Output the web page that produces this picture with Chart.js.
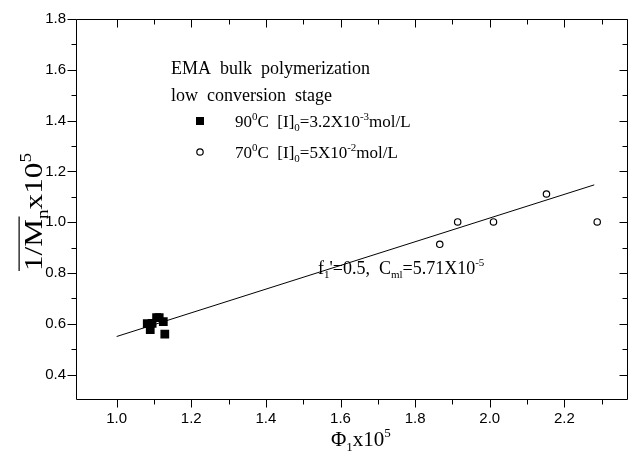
<!DOCTYPE html>
<html>
<head>
<meta charset="utf-8">
<script src="https://cdn.jsdelivr.net/npm/chart.js@4"></script>
<style>
html,body{margin:0;padding:0;background:#fff;}
canvas{display:block;}
</style>
</head>
<body>
<canvas id="c" width="634" height="458"></canvas>
<script>
// ---- data ----
const squaresX = [1.082, 1.090, 1.095, 1.107, 1.114, 1.125, 1.129];
const squaresY = [0.601, 0.577, 0.602, 0.624, 0.624, 0.609, 0.559];
const circlesX = [1.866, 1.914, 2.010, 2.152, 2.288];
const circlesY = [0.913, 1.001, 1.001, 1.111, 1.001];
const fitX = [1.0, 2.28];
const fitY = [0.55, 1.147];
const xTicks = [1.0, 1.2, 1.4, 1.6, 1.8, 2.0, 2.2];
const xMinor = [1.1, 1.3, 1.5, 1.7, 1.9, 2.1, 2.3];
const yTicks = [0.4, 0.6, 0.8, 1.0, 1.2, 1.4, 1.6, 1.8];
const yMinor = [0.5, 0.7, 0.9, 1.1, 1.3, 1.5, 1.7];
const xRange = [0.891, 2.37];
const yRange = [0.3, 1.8];

const SERIF = '"Liberation Serif", "Times New Roman", serif';

function richText(ctx, x, y, segs, base) {
  let cx = x;
  const pos = [];
  for (const [t, k] of segs) {
    let size = base, dy = 0;
    if (k === 'sup') { size = Math.round(base * 0.62); dy = -base * 0.42; }
    if (k === 'sub') { size = Math.round(base * 0.62); dy = base * 0.22; }
    ctx.font = size + 'px ' + SERIF;
    ctx.fillText(t, cx, y + dy);
    const w = ctx.measureText(t).width;
    pos.push([cx, cx + w]);
    cx += w;
  }
  return pos;
}
function richWidth(ctx, segs, base) {
  let w = 0;
  for (const [t, k] of segs) {
    const size = k === 'n' ? base : Math.round(base * 0.62);
    ctx.font = size + 'px ' + SERIF;
    w += ctx.measureText(t).width;
  }
  return w;
}

const deco = {
  id: 'deco',
  afterDraw(chart) {
    const { ctx, chartArea: a, scales: { x, y } } = chart;
    ctx.save();
    ctx.strokeStyle = '#000';
    ctx.fillStyle = '#000';
    ctx.lineWidth = 1;
    const L = Math.round(a.left) + 0.5, R = Math.round(a.right) - 0.5;
    const T = Math.round(a.top) + 0.5, B = Math.round(a.bottom) - 0.5;
    ctx.beginPath();
    ctx.rect(L, T, R - L, B - T);
    ctx.stroke();
    const seg = (x1, y1, x2, y2) => { ctx.moveTo(x1, y1); ctx.lineTo(x2, y2); };
    ctx.beginPath();
    for (const v of xTicks) {
      const p = Math.round(x.getPixelForValue(v)) + 0.5;
      seg(p, B, p, B + 8); seg(p, T, p, T + 8);
    }
    for (const v of xMinor) {
      const p = Math.round(x.getPixelForValue(v)) + 0.5;
      seg(p, B, p, B + 5); seg(p, T, p, T + 5);
    }
    for (const v of yTicks) {
      const p = Math.round(y.getPixelForValue(v)) + 0.5;
      seg(L, p, L - 9, p); seg(R, p, R - 8, p);
    }
    for (const v of yMinor) {
      const p = Math.round(y.getPixelForValue(v)) + 0.5;
      seg(L, p, L - 5, p); seg(R, p, R - 5, p);
    }
    ctx.stroke();

    ctx.textBaseline = 'alphabetic';
    ctx.textAlign = 'left';
    const hs = 18, fs = 17;
    ctx.font = hs + 'px ' + SERIF;
    ctx.fillText('EMA  bulk  polymerization', 171, 74);
    ctx.fillText('low  conversion  stage', 171, 101);
    ctx.fillRect(196, 117, 8, 8);
    ctx.beginPath();
    ctx.arc(200, 152, 3.2, 0, Math.PI * 2);
    ctx.lineWidth = 1.2;
    ctx.stroke();
    richText(ctx, 235, 127, [['90', 'n'], ['0', 'sup'], ['C  [I]', 'n'], ['0', 'sub'], ['=3.2X10', 'n'], ['-3', 'sup'], ['mol/L', 'n']], fs);
    richText(ctx, 235, 158, [['70', 'n'], ['0', 'sup'], ['C  [I]', 'n'], ['0', 'sub'], ['=5X10', 'n'], ['-2', 'sup'], ['mol/L', 'n']], fs);
    richText(ctx, 318, 274, [["f", 'n'], ['1', 'sub'], ["'=0.5,  C", 'n'], ['ml', 'sub'], ['=5.71X10', 'n'], ['-5', 'sup']], 18);

    const xs = [['Φ', 'n'], ['1', 'sub'], ['x10', 'n'], ['5', 'sup']];
    const xb = 21;
    richText(ctx, 331, 446, xs, xb);

    const ys = [['1/M', 'n'], ['n', 'sub'], ['x10', 'n'], ['5', 'sup']];
    const yb = 26, stretch = 1.2;
    const yw = richWidth(ctx, ys, yb);
    ctx.save();
    ctx.translate(42, 212);
    ctx.rotate(-Math.PI / 2);
    ctx.scale(stretch, 1);
    const p = richText(ctx, -yw / 2, 0, ys, yb);
    ctx.lineWidth = 1.2;
    ctx.beginPath();
    ctx.moveTo(p[0][0], -yb * 0.88);
    ctx.lineTo(p[0][1] + 2, -yb * 0.88);
    ctx.stroke();
    ctx.restore();

    ctx.restore();
  }
};

const tickFont = { family: '"Liberation Sans", Arial, sans-serif', size: 15 };

new Chart(document.getElementById('c'), {
  type: 'scatter',
  data: {
    datasets: [
      {
        label: '90C',
        data: squaresX.map((v, i) => ({ x: v, y: squaresY[i] })),
        pointStyle: 'rect',
        pointRadius: 6.2,
        pointHoverRadius: 6.2,
        backgroundColor: '#000',
        borderWidth: 0
      },
      {
        label: '70C',
        data: circlesX.map((v, i) => ({ x: v, y: circlesY[i] })),
        pointStyle: 'circle',
        pointRadius: 3.2,
        pointHoverRadius: 3.2,
        backgroundColor: '#fff',
        borderColor: '#000',
        borderWidth: 1.2
      },
      {
        label: 'fit',
        data: fitX.map((v, i) => ({ x: v, y: fitY[i] })),
        showLine: true,
        pointRadius: 0,
        borderColor: '#000',
        borderWidth: 1,
        fill: false
      }
    ]
  },
  options: {
    responsive: false,
    animation: false,
    devicePixelRatio: 1,
    layout: { padding: { top: 15, right: 3, left: 0, bottom: 0 } },
    plugins: { legend: { display: false }, tooltip: { enabled: false } },
    scales: {
      x: {
        type: 'linear',
        min: xRange[0], max: xRange[1],
        afterBuildTicks: s => { s.ticks = xTicks.map(v => ({ value: v })); },
        afterFit: s => { s.height = 58; },
        grid: { display: false, drawTicks: false },
        border: { display: false },
        ticks: { font: tickFont, color: '#000', padding: 10, callback: v => Number(v).toFixed(1), maxRotation: 0 }
      },
      y: {
        type: 'linear',
        min: yRange[0], max: yRange[1],
        afterBuildTicks: s => { s.ticks = yTicks.map(v => ({ value: v })); },
        afterFit: s => { s.width = 76; },
        grid: { display: false, drawTicks: false },
        border: { display: false },
        ticks: { font: tickFont, color: '#000', padding: 10, callback: v => Number(v).toFixed(1) }
      }
    }
  },
  plugins: [deco]
});
</script>
</body>
</html>
